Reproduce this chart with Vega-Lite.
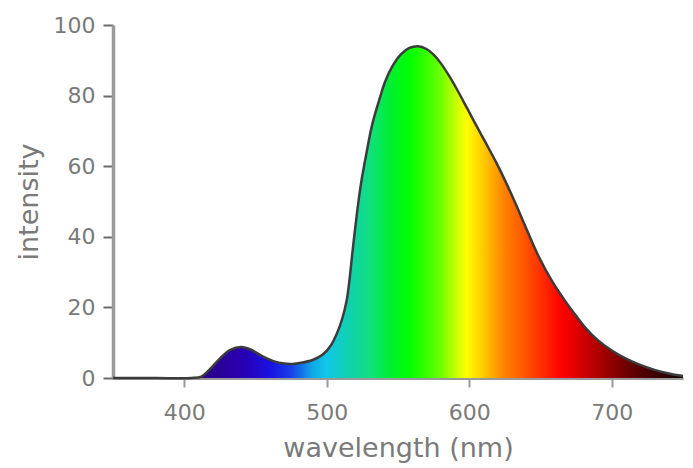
{
  "$schema": "https://vega.github.io/schema/vega-lite/v6.json",
  "width": 570,
  "height": 353,
  "autosize": "none",
  "padding": {"left": 113, "top": 25, "right": 10, "bottom": 90},
  "background": "white",
  "config": {
    "view": {"stroke": null},
    "font": "DejaVu Sans"
  },
  "data": {
    "values": [
      {"wavelength": 350, "intensity": 0},
      {"wavelength": 380, "intensity": 0},
      {"wavelength": 405, "intensity": 0},
      {"wavelength": 412, "intensity": 0.4},
      {"wavelength": 418, "intensity": 2.5},
      {"wavelength": 425, "intensity": 5.5},
      {"wavelength": 432, "intensity": 7.9},
      {"wavelength": 440, "intensity": 8.8},
      {"wavelength": 447, "intensity": 8},
      {"wavelength": 455, "intensity": 6.1},
      {"wavelength": 463, "intensity": 4.7},
      {"wavelength": 470, "intensity": 4.1},
      {"wavelength": 476, "intensity": 4.0},
      {"wavelength": 482, "intensity": 4.3},
      {"wavelength": 490, "intensity": 5.1},
      {"wavelength": 497, "intensity": 6.6},
      {"wavelength": 503, "intensity": 9.3},
      {"wavelength": 507, "intensity": 12.5},
      {"wavelength": 511, "intensity": 17},
      {"wavelength": 514, "intensity": 22},
      {"wavelength": 516, "intensity": 28},
      {"wavelength": 518, "intensity": 35.5},
      {"wavelength": 521, "intensity": 46},
      {"wavelength": 524, "intensity": 55},
      {"wavelength": 528, "intensity": 64},
      {"wavelength": 532, "intensity": 72},
      {"wavelength": 537, "intensity": 79},
      {"wavelength": 541, "intensity": 84},
      {"wavelength": 546, "intensity": 88.3},
      {"wavelength": 552, "intensity": 91.7},
      {"wavelength": 558, "intensity": 93.5},
      {"wavelength": 564, "intensity": 94},
      {"wavelength": 570, "intensity": 93.2},
      {"wavelength": 575, "intensity": 91.6},
      {"wavelength": 580, "intensity": 89.2},
      {"wavelength": 586, "intensity": 85.5},
      {"wavelength": 592, "intensity": 81.3},
      {"wavelength": 598, "intensity": 76.8},
      {"wavelength": 605, "intensity": 71.5},
      {"wavelength": 612, "intensity": 66.3},
      {"wavelength": 619, "intensity": 61.0},
      {"wavelength": 626, "intensity": 55.2},
      {"wavelength": 634, "intensity": 48.0},
      {"wavelength": 641, "intensity": 41.4},
      {"wavelength": 649, "intensity": 34.2},
      {"wavelength": 658, "intensity": 27.5},
      {"wavelength": 667, "intensity": 22},
      {"wavelength": 675, "intensity": 17.6},
      {"wavelength": 682, "intensity": 14},
      {"wavelength": 690, "intensity": 10.8},
      {"wavelength": 700, "intensity": 7.8},
      {"wavelength": 710, "intensity": 5.5},
      {"wavelength": 720, "intensity": 3.7},
      {"wavelength": 730, "intensity": 2.3},
      {"wavelength": 740, "intensity": 1.3},
      {"wavelength": 748, "intensity": 0.7},
      {"wavelength": 750, "intensity": 0.6}
    ]
  },
  "mark": {
    "type": "area",
    "interpolate": "catmull-rom",
    "fill": {
      "gradient": "linear",
      "x1": 0, "x2": 1, "y1": 0, "y2": 0,
      "stops": [
        {"offset": 0, "color": "#200070"},
        {"offset": 0.175, "color": "#2a0090"},
        {"offset": 0.225, "color": "#2800b0"},
        {"offset": 0.275, "color": "#1a10e0"},
        {"offset": 0.3125, "color": "#1840e8"},
        {"offset": 0.35, "color": "#10a8e8"},
        {"offset": 0.375, "color": "#10c8e8"},
        {"offset": 0.4125, "color": "#10d0b0"},
        {"offset": 0.45, "color": "#10e080"},
        {"offset": 0.4875, "color": "#00f030"},
        {"offset": 0.52, "color": "#00ff00"},
        {"offset": 0.57, "color": "#60ff00"},
        {"offset": 0.62, "color": "#ffff00"},
        {"offset": 0.655, "color": "#ffc000"},
        {"offset": 0.6875, "color": "#ff8000"},
        {"offset": 0.7375, "color": "#ff4000"},
        {"offset": 0.7875, "color": "#ff0000"},
        {"offset": 0.85, "color": "#b00000"},
        {"offset": 0.9125, "color": "#600000"},
        {"offset": 1, "color": "#100000"}
      ]
    },
    "fillOpacity": 1,
    "line": {"color": "#3c3c3c", "strokeWidth": 2.5}
  },
  "encoding": {
    "x": {
      "field": "wavelength",
      "type": "quantitative",
      "scale": {"domain": [350, 750], "nice": false, "zero": false},
      "axis": {
        "title": "wavelength (nm)",
        "values": [400, 500, 600, 700],
        "grid": false,
        "domainColor": "#9a9a9a",
        "domainWidth": 3,
        "tickColor": "#9a9a9a",
        "tickWidth": 2,
        "tickSize": 9,
        "labelPadding": 15,
        "labelFontSize": 22,
        "labelColor": "#7a7a7a",
        "titleFontSize": 27,
        "titleFontWeight": "normal",
        "titleColor": "#7a7a7a",
        "titleBaseline": "alphabetic",
        "titleY": 78
      }
    },
    "y": {
      "field": "intensity",
      "type": "quantitative",
      "scale": {"domain": [0, 100], "nice": false},
      "axis": {
        "title": "intensity",
        "values": [0, 20, 40, 60, 80, 100],
        "grid": false,
        "domainColor": "#9a9a9a",
        "domainWidth": 3.5,
        "tickColor": "#6a6a6a",
        "tickWidth": 2,
        "tickSize": 10,
        "labelPadding": 8,
        "labelFontSize": 22,
        "labelColor": "#7a7a7a",
        "titleFontSize": 27,
        "titleFontWeight": "normal",
        "titleColor": "#7a7a7a",
        "titleBaseline": "middle",
        "titleX": -84
      }
    }
  }
}
